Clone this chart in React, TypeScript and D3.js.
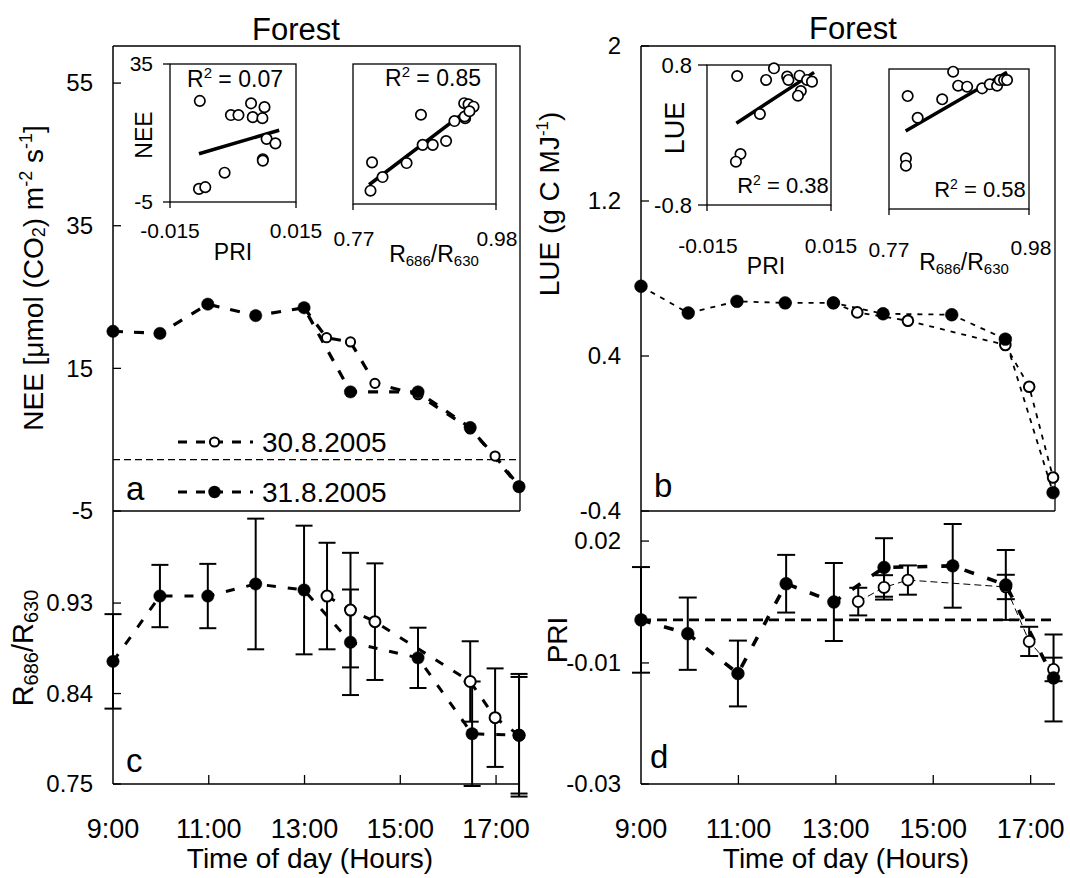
import React from "react";
import * as d3 from "d3";

const FONT = "'Liberation Sans', Arial, Helvetica, sans-serif";

// ---------------- Panel a : NEE ----------------
const neeHours31 = [9, 9.98, 10.98, 11.98, 12.99, 13.96, 15.37, 16.46, 17.48];
const nee31 = [20.2, 19.9, 24.0, 22.4, 23.5, 11.7, 11.7, 6.7, -1.6];
const neeHours30 = [12.99, 13.46, 13.96, 14.47, 15.37, 16.46, 16.98, 17.48];
const nee30 = [23.5, 19.3, 18.7, 12.9, 11.3, 6.5, 2.7, -1.5];
const neeRef = 2.2;
const neeTicks = [-5, 15, 35, 55];

// ---------------- Panel b : LUE ----------------
const lueHours31 = [9, 9.97, 10.97, 11.96, 12.95, 13.97, 15.38, 16.48, 17.46];
const lue31 = [0.76, 0.622, 0.682, 0.674, 0.674, 0.618, 0.613, 0.487, -0.305];
const lueHours30 = [12.95, 13.44, 14.48, 16.48, 16.97, 17.46];
const lue30 = [0.674, 0.625, 0.582, 0.457, 0.241, -0.227];
const lueTicks = [-0.4, 0.4, 1.2, 2];

// ---------------- Panel c : R686/R630 ----------------
const rHours31 = [9, 9.98, 10.98, 11.98, 12.99, 13.96, 15.37, 16.5, 17.48];
const r31 = [0.872, 0.937, 0.937, 0.949, 0.943, 0.891, 0.8755, 0.8, 0.7985];
const r31Err = [0.047, 0.031, 0.032, 0.065, 0.064, 0.0525, 0.03, 0.052, 0.058];
const rHours30 = [13.47, 13.96, 14.47, 16.46, 16.98, 17.48];
const r30 = [0.937, 0.923, 0.9115, 0.852, 0.816, 0.7985];
const r30Err = [0.053, 0.057, 0.058, 0.04, 0.049, 0.061];
const rTicks = [0.75, 0.84, 0.93];

// ---------------- Panel d : PRI ----------------
const priHours31 = [9, 9.96, 10.99, 11.98, 12.96, 13.99, 15.4, 16.49, 17.47];
const pri31 = [0.0006, -0.0028, -0.0126, 0.0095, 0.005, 0.0135, 0.0139, 0.0092, -0.0137];
const pri31Err = [0.013, 0.0089, 0.0081, 0.0071, 0.0096, 0.0072, 0.0103, 0.0086, 0.0107];
const priHours30 = [13.46, 13.99, 14.48, 16.49, 16.97, 17.47];
const pri30 = [0.0051, 0.0086, 0.0104, 0.0087, -0.0047, -0.0116];
const pri30Err = [0.0034, 0.003, 0.0036, 0.003, 0.0036, 0.0029];
const priRef = 0.0006;
const priTickValues = [-0.0398, -0.01, 0.02];
const priTickLabels = ["-0.03", "-0.01", "0.02"];

// ---------------- x axis ----------------
const hourTicks = [9, 11, 13, 15, 17];

// ---------------- Insets ----------------
const insA1Pri = [-0.0079, -0.0005, 0.0013, 0.0043, 0.0075, 0.0047, 0.007, 0.008, 0.0101, 0.0071, 0.0071, -0.002, -0.0081, -0.0066];
const insA1Nee = [24.3, 20.2, 20.2, 23.6, 22.5, 19.6, 19.3, 13.3, 12.0, 7.4, 7.0, 3.5, -1.2, -0.7];
const fitA1Pri = [-0.0081, 0.011];
const fitA1Nee = [9.0, 15.8];

const insA2R = [0.7957, 0.798, 0.8134, 0.8487, 0.8698, 0.8723, 0.8871, 0.9067, 0.919, 0.9333, 0.9347, 0.934, 0.9396, 0.947, 0.941];
const insA2Nee = [-1.2, 6.9, 2.7, 6.7, 20.5, 11.9, 11.9, 13.0, 18.7, 23.8, 19.5, 20.0, 23.5, 22.8, 21.5];
const fitA2R = [0.7936, 0.942];
const fitA2Nee = [0.5, 22.4];

const insB1Pri = [-0.0077, 0.0012, -0.0007, 0.0044, 0.0047, 0.0074, 0.0077, 0.007, 0.0092, 0.0104, -0.0022, -0.0069, -0.008];
const insB1Lue = [0.674, 0.762, 0.629, 0.667, 0.629, 0.678, 0.503, 0.449, 0.629, 0.61, 0.24, -0.217, -0.305];
const fitB1Pri = [-0.0079, 0.0109];
const fitB1Lue = [0.134, 0.716];

const insB2R = [0.798, 0.7954, 0.7954, 0.813, 0.8498, 0.8662, 0.8737, 0.8872, 0.9097, 0.9212, 0.9321, 0.9361, 0.9426, 0.9471];
const insB2Lue = [0.491, -0.221, -0.305, 0.243, 0.454, 0.769, 0.609, 0.598, 0.579, 0.625, 0.609, 0.674, 0.674, 0.674];
const fitB2R = [0.795, 0.947];
const fitB2Lue = [0.091, 0.762];

type Sc = d3.ScaleLinear<number, number>;

function Line({ xs, ys, x, y, sw, dash }: { xs: number[]; ys: number[]; x: Sc; y: Sc; sw: number; dash?: string }) {
  const pts = xs.map((h, i) => [h, ys[i]] as [number, number]);
  const gen = d3.line<[number, number]>().x((d) => x(d[0])).y((d) => y(d[1]));
  return <path d={gen(pts) || ""} fill="none" stroke="#000" strokeWidth={sw} strokeDasharray={dash} />;
}

function Dots({ xs, ys, x, y, r, filled, sw = 1.8 }: { xs: number[]; ys: number[]; x: Sc; y: Sc; r: number; filled: boolean; sw?: number }) {
  return (
    <g>
      {xs.map((h, i) => (
        <circle key={i} cx={x(h)} cy={y(ys[i])} r={r} fill={filled ? "#000" : "#fff"} stroke="#000" strokeWidth={filled ? 0.5 : sw} />
      ))}
    </g>
  );
}

function ErrBars({ xs, ys, es, x, y, cap }: { xs: number[]; ys: number[]; es: number[]; x: Sc; y: Sc; cap: number }) {
  return (
    <g stroke="#000" strokeWidth={2}>
      {xs.map((h, i) => {
        const cx = x(h);
        const y1 = y(ys[i] + es[i]);
        const y2 = y(ys[i] - es[i]);
        return (
          <g key={i}>
            <line x1={cx} x2={cx} y1={y1} y2={y2} />
            <line x1={cx - cap} x2={cx + cap} y1={y1} y2={y1} />
            <line x1={cx - cap} x2={cx + cap} y1={y2} y2={y2} />
          </g>
        );
      })}
    </g>
  );
}

function RSub({ size, sub }: { size: number; sub: number }) {
  return (
    <>
      R<tspan fontSize={sub} dy={size * 0.18}>686</tspan>
      <tspan dy={-size * 0.18}>/R</tspan>
      <tspan fontSize={sub} dy={size * 0.18}>630</tspan>
    </>
  );
}

function Inset({ box, xDom, yDom, px, py, fx, fy }: any) {
  const x = d3.scaleLinear().domain(xDom).range([box.x0, box.x1]);
  const y = d3.scaleLinear().domain(yDom).range([box.y1, box.y0]);
  return (
    <g>
      <rect x={box.x0} y={box.y0} width={box.x1 - box.x0} height={box.y1 - box.y0} fill="none" stroke="#000" strokeWidth={1.3} />
      <line x1={box.x0} x2={box.x0} y1={box.y1} y2={box.y1 + 6} stroke="#000" strokeWidth={1.3} />
      <line x1={box.x1} x2={box.x1} y1={box.y1} y2={box.y1 + 6} stroke="#000" strokeWidth={1.3} />
      <Line xs={fx} ys={fy} x={x} y={y} sw={3.5} />
      <Dots xs={px} ys={py} x={x} y={y} r={5.2} filled={false} sw={1.7} />
    </g>
  );
}

export default function App() {
  const W = 1070;
  const H = 878;
  const L = { x0: 113, x1: 520 };
  const R = { x0: 641, x1: 1055 };
  const yTop = 46;
  const yMid = 511;
  const yBot = 784;

  const xL = d3.scaleLinear().domain([9, 17.5]).range([L.x0, L.x1]);
  const xR = d3.scaleLinear().domain([9, 17.5]).range([R.x0, R.x1]);
  const yA = d3.scaleLinear().domain([-5, 60.2]).range([yMid, yTop]);
  const yC = d3.scaleLinear().domain([0.75, 1.0216]).range([yBot, yMid]);
  const yB = d3.scaleLinear().domain([-0.4, 2.0]).range([yMid, yTop]);
  const yD = d3.scaleLinear().domain([-0.0398, 0.0274]).range([yBot, yMid]);

  const boxA1 = { x0: 170, x1: 296, y0: 64, y1: 202 };
  const boxA2 = { x0: 353, x1: 496, y0: 64, y1: 204 };
  const boxB1 = { x0: 707, x1: 831, y0: 65, y1: 205 };
  const boxB2 = { x0: 889, x1: 1029, y0: 69, y1: 209 };

  const fmtHour = (h: number) => `${h}:00`;
  const tickFs = 24;
  const xFs = 27;

  const xAxis = (x: Sc, x0: number) => (
    <g>
      {hourTicks.map((h) => (
        <g key={h}>
          {h !== 9 && <line x1={x(h)} x2={x(h)} y1={yBot} y2={yBot - 9} stroke="#000" strokeWidth={1.3} />}
          <text x={x(h)} y={838} fontSize={xFs} textAnchor="middle">
            {fmtHour(h)}
          </text>
        </g>
      ))}
    </g>
  );

  const yTicksEl = (vals: number[], labels: string[], y: Sc, x0: number, labelX: number) => (
    <g>
      {vals.map((v, i) => (
        <g key={i}>
          <line x1={x0} x2={x0 + 8} y1={y(v)} y2={y(v)} stroke="#000" strokeWidth={1.3} />
          <text x={labelX} y={y(v)} dy="0.35em" fontSize={tickFs} textAnchor="end">
            {labels[i]}
          </text>
        </g>
      ))}
    </g>
  );

  return (
    <svg
      width={W}
      height={H}
      viewBox={`0 0 ${W} ${H}`}
      style={{ position: "absolute", left: 0, top: 0, background: "#fff" }}
      fontFamily={FONT}
    >
      <rect width={W} height={H} fill="#fff" />

      {/* ================= LEFT COLUMN ================= */}
      <text x={296} y={40} fontSize={31} textAnchor="middle">Forest</text>
      {/* frame of a */}
      <path d={`M${L.x0},${yTop}H${L.x1}V${yMid}`} fill="none" stroke="#000" strokeWidth={1.3} />
      <line x1={L.x0} x2={L.x1} y1={yMid} y2={yMid} stroke="#000" strokeWidth={1.5} />
      <line x1={L.x0} x2={L.x0} y1={yTop} y2={yBot} stroke="#000" strokeWidth={1.5} />
      <line x1={L.x0} x2={L.x1} y1={yBot} y2={yBot} stroke="#000" strokeWidth={1.5} />

      {yTicksEl(neeTicks, neeTicks.map(String), yA, L.x0, 93)}
      {yTicksEl(rTicks, rTicks.map((v) => v.toFixed(2)), yC, L.x0, 93)}
      {xAxis(xL, L.x0)}

      {/* panel a content */}
      <line x1={L.x0} x2={L.x1} y1={yA(neeRef)} y2={yA(neeRef)} stroke="#000" strokeWidth={1.4} strokeDasharray="7 4" />
      <Line xs={neeHours30} ys={nee30} x={xL} y={yA} sw={3.2} dash="10 11" />
      <Line xs={neeHours31} ys={nee31} x={xL} y={yA} sw={3.2} dash="10 11" />
      <Dots xs={neeHours30} ys={nee30} x={xL} y={yA} r={4.6} filled={false} sw={2} />
      <Dots xs={neeHours31} ys={nee31} x={xL} y={yA} r={6.2} filled={true} />

      {/* legend */}
      <g>
        <line x1={178} x2={253} y1={442} y2={442} stroke="#000" strokeWidth={3.2} strokeDasharray="9 9" />
        <circle cx={214.5} cy={442} r={4.6} fill="#fff" stroke="#000" strokeWidth={2} />
        <text x={262} y={442} dy="0.35em" fontSize={28}>30.8.2005</text>
        <line x1={178} x2={253} y1={492} y2={492} stroke="#000" strokeWidth={3.2} strokeDasharray="9 9" />
        <circle cx={214.5} cy={492} r={6.2} fill="#000" />
        <text x={262} y={492} dy="0.35em" fontSize={28}>31.8.2005</text>
      </g>
      <text x={126} y={500} fontSize={33}>a</text>

      {/* insets a */}
      <Inset box={boxA1} xDom={[-0.015, 0.015]} yDom={[-5, 35]} px={insA1Pri} py={insA1Nee} fx={fitA1Pri} fy={fitA1Nee} />
      <Inset box={boxA2} xDom={[0.77, 0.98]} yDom={[-5, 35]} px={insA2R} py={insA2Nee} fx={fitA2R} fy={fitA2Nee} />
      <line x1={boxA1.x0 - 7} x2={boxA1.x0} y1={boxA1.y0} y2={boxA1.y0} stroke="#000" strokeWidth={1.3} />
      <line x1={boxA1.x0 - 7} x2={boxA1.x0} y1={boxA1.y1} y2={boxA1.y1} stroke="#000" strokeWidth={1.3} />
      <text x={153} y={boxA1.y0} dy="0.35em" fontSize={21} textAnchor="end">35</text>
      <text x={153} y={boxA1.y1} dy="0.35em" fontSize={21} textAnchor="end">-5</text>
      <text transform={`translate(152,135) rotate(-90)`} fontSize={23} textAnchor="middle">NEE</text>
      <text x={235} y={87} fontSize={23} textAnchor="middle">
        R<tspan fontSize={15} dy={-9}>2</tspan><tspan dy={9}> = 0.07</tspan>
      </text>
      <text x={433} y={86} fontSize={23} textAnchor="middle">
        R<tspan fontSize={15} dy={-9}>2</tspan><tspan dy={9}> = 0.85</tspan>
      </text>
      <text x={boxA1.x0} y={238} fontSize={21} textAnchor="middle">-0.015</text>
      <text x={boxA1.x1} y={238} fontSize={21} textAnchor="middle">0.015</text>
      <text x={233} y={260} fontSize={23} textAnchor="middle">PRI</text>
      <text x={354} y={246} fontSize={21} textAnchor="middle">0.77</text>
      <text x={497} y={246} fontSize={21} textAnchor="middle">0.98</text>
      <text x={434} y={262} fontSize={23} textAnchor="middle"><RSub size={23} sub={15} /></text>

      {/* panel c content */}
      <Line xs={rHours30} ys={r30} x={xL} y={yC} sw={3} dash="9 12" />
      <Line xs={rHours31} ys={r31} x={xL} y={yC} sw={3} dash="9 12" />
      <ErrBars xs={rHours30} ys={r30} es={r30Err} x={xL} y={yC} cap={8.5} />
      <ErrBars xs={rHours31} ys={r31} es={r31Err} x={xL} y={yC} cap={8.5} />
      <Dots xs={rHours30} ys={r30} x={xL} y={yC} r={5.5} filled={false} sw={2} />
      <Dots xs={rHours31} ys={r31} x={xL} y={yC} r={6.2} filled={true} />
      <text x={126} y={772} fontSize={33}>c</text>

      {/* left titles */}
      <text transform={`translate(43,278) rotate(-90)`} fontSize={28} textAnchor="middle">
        NEE [μmol (CO<tspan fontSize={18} dy={2}>2</tspan><tspan dy={-2}>) m</tspan>
        <tspan fontSize={18} dy={-11}>-2</tspan>
        <tspan dy={11}> s</tspan>
        <tspan fontSize={18} dy={-11}>-1</tspan>
        <tspan dy={11}>]</tspan>
      </text>
      <text transform={`translate(33,648) rotate(-90)`} fontSize={29} textAnchor="middle">
        <RSub size={29} sub={20} />
      </text>
      <text x={310} y={868} fontSize={28} textAnchor="middle">Time of day (Hours)</text>

      {/* ================= RIGHT COLUMN ================= */}
      <text x={853} y={39} fontSize={31} textAnchor="middle">Forest</text>
      <path d={`M${R.x0},${yTop}H${R.x1}V${yMid}`} fill="none" stroke="#000" strokeWidth={1.3} />
      <line x1={R.x0} x2={R.x1} y1={yMid} y2={yMid} stroke="#000" strokeWidth={1.5} />
      <line x1={R.x0} x2={R.x0} y1={yTop} y2={yBot} stroke="#000" strokeWidth={1.5} />
      <line x1={R.x0} x2={R.x1} y1={yBot} y2={yBot} stroke="#000" strokeWidth={1.5} />

      {yTicksEl(lueTicks, lueTicks.map(String), yB, R.x0, 621)}
      {yTicksEl(priTickValues, priTickLabels, yD, R.x0, 621)}
      {xAxis(xR, R.x0)}

      {/* panel b content */}
      <Line xs={lueHours30} ys={lue30} x={xR} y={yB} sw={1.8} dash="5 6" />
      <Line xs={lueHours31} ys={lue31} x={xR} y={yB} sw={1.8} dash="5 6" />
      <Dots xs={lueHours30} ys={lue30} x={xR} y={yB} r={5.3} filled={false} sw={2} />
      <Dots xs={lueHours31} ys={lue31} x={xR} y={yB} r={6.4} filled={true} />
      <text x={654} y={497} fontSize={33}>b</text>

      {/* insets b */}
      <Inset box={boxB1} xDom={[-0.015, 0.015]} yDom={[-0.8, 0.8]} px={insB1Pri} py={insB1Lue} fx={fitB1Pri} fy={fitB1Lue} />
      <Inset box={boxB2} xDom={[0.77, 0.98]} yDom={[-0.8, 0.8]} px={insB2R} py={insB2Lue} fx={fitB2R} fy={fitB2Lue} />
      <line x1={boxB1.x0 - 9} x2={boxB1.x0} y1={boxB1.y0} y2={boxB1.y0} stroke="#000" strokeWidth={1.3} />
      <line x1={boxB1.x0 - 9} x2={boxB1.x0} y1={boxB1.y1} y2={boxB1.y1} stroke="#000" strokeWidth={1.3} />
      <text x={692} y={boxB1.y0} dy="0.35em" fontSize={22} textAnchor="end">0.8</text>
      <text x={692} y={boxB1.y1} dy="0.35em" fontSize={22} textAnchor="end">-0.8</text>
      <text transform={`translate(684,128) rotate(-90)`} fontSize={27} textAnchor="middle">LUE</text>
      <text x={783} y={193} fontSize={22} textAnchor="middle">
        R<tspan fontSize={14} dy={-8}>2</tspan><tspan dy={8}> = 0.38</tspan>
      </text>
      <text x={980} y={197} fontSize={22} textAnchor="middle">
        R<tspan fontSize={14} dy={-8}>2</tspan><tspan dy={8}> = 0.58</tspan>
      </text>
      <text x={708} y={253} fontSize={21} textAnchor="middle">-0.015</text>
      <text x={831} y={253} fontSize={21} textAnchor="middle">0.015</text>
      <text x={766} y={274} fontSize={23} textAnchor="middle">PRI</text>
      <text x={889} y={257} fontSize={21} textAnchor="middle">0.77</text>
      <text x={1031} y={255} fontSize={21} textAnchor="middle">0.98</text>
      <text x={964} y={270} fontSize={23} textAnchor="middle"><RSub size={23} sub={15} /></text>

      {/* panel d content */}
      <line x1={R.x0} x2={R.x1} y1={yD(priRef)} y2={yD(priRef)} stroke="#000" strokeWidth={2.6} strokeDasharray="10 6" />
      <Line xs={priHours30} ys={pri30} x={xR} y={yD} sw={1} dash="7 4" />
      <Line xs={priHours31} ys={pri31} x={xR} y={yD} sw={3.6} dash="10 14" />
      <ErrBars xs={priHours30} ys={pri30} es={pri30Err} x={xR} y={yD} cap={9} />
      <ErrBars xs={priHours31} ys={pri31} es={pri31Err} x={xR} y={yD} cap={9} />
      <Dots xs={priHours30} ys={pri30} x={xR} y={yD} r={5.5} filled={false} sw={1.8} />
      <Dots xs={priHours31} ys={pri31} x={xR} y={yD} r={6.4} filled={true} />
      <text x={650} y={768} fontSize={33}>d</text>

      {/* right titles */}
      <text transform={`translate(559,204) rotate(-90)`} fontSize={28} textAnchor="middle">
        LUE (g C MJ<tspan fontSize={17} dy={-11}>-1</tspan><tspan dy={11}>)</tspan>
      </text>
      <text transform={`translate(567,640) rotate(-90)`} fontSize={28} textAnchor="middle">PRI</text>
      <text x={846} y={868} fontSize={28} textAnchor="middle">Time of day (Hours)</text>
    </svg>
  );
}
